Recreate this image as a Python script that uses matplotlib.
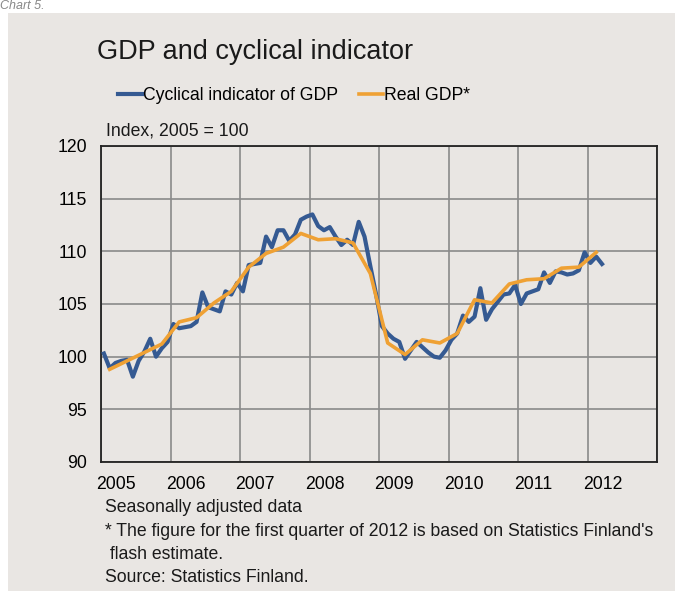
import numpy as np
import matplotlib
matplotlib.use("Agg")
from matplotlib import pyplot as plt
from matplotlib.patches import Rectangle

plt.rcParams['font.family'] = ['Liberation Sans', 'DejaVu Sans']

# monthly cyclical indicator of GDP, Jan 2005 - Mar 2012
cyclical = [100.3, 98.9, 99.4, 99.6, 99.7, 98.1, 99.6, 100.5, 101.7, 100.0, 100.8, 101.4,
            103.1, 102.7, 102.8, 102.9, 103.3, 106.1, 104.7, 104.5, 104.3, 106.2, 105.9, 107.0,
            106.2, 108.7, 108.8, 108.9, 111.4, 110.4, 112.0, 112.0, 111.0, 111.6, 113.0, 113.3,
            113.5, 112.4, 112.0, 112.3, 111.4, 110.6, 111.1, 110.6, 112.8, 111.4, 108.6, 105.9,
            102.9, 102.2, 101.7, 101.4, 99.8, 100.6, 101.4, 100.9, 100.4, 100.0, 99.9, 100.6,
            101.6, 102.2, 103.9, 103.3, 103.8, 106.5, 103.5, 104.5, 105.2, 105.9, 106.0, 106.8,
            105.0, 106.0, 106.2, 106.4, 108.0, 107.0, 108.1, 108.0, 107.8, 107.9, 108.2, 109.9,
            108.9, 109.5, 108.8]

# quarterly real GDP, 2005Q1 - 2012Q1
real_gdp = [98.8, 99.6, 100.4, 101.2, 103.3, 103.7, 105.1, 106.2,
            108.5, 109.8, 110.4, 111.7, 111.1, 111.2, 110.8, 107.9,
            101.3, 100.2, 101.6, 101.3, 102.2, 105.4, 105.1, 106.9,
            107.3, 107.4, 108.4, 108.5, 109.9]

years = [2005, 2006, 2007, 2008, 2009, 2010, 2011, 2012]
yticks = [90, 95, 100, 105, 110, 115, 120]

# positions: mid-month and mid-quarter on a year scale
x_month = 2005 + (np.arange(len(cyclical)) + 0.5) / 12
x_quarter = 2005 + (3 * np.arange(len(real_gdp)) + 1.5) / 12

BLUE = '#355a92'
ORANGE = '#efa134'
PANEL = '#e9e6e3'
GRID = '#8a8a8a'
FS = 12.7

fig = plt.figure(figsize=(6.75, 5.91), dpi=100)
fig.patch.set_facecolor('white')
fig.patches.append(Rectangle((8 / 675, 0), 1, (591 - 13) / 591,
                             transform=fig.transFigure, facecolor=PANEL,
                             edgecolor='none', zorder=-5))
fig.text(0.0, 1.0, 'Chart 5.', fontsize=9, style='italic', color='#888888',
         va='top', ha='left')

ax = fig.add_axes([101 / 675, (591 - 462) / 591, 556 / 675, 316 / 591])
ax.set_facecolor(PANEL)

ax.plot(x_month, cyclical, color=BLUE, lw=3.0, solid_joinstyle='round',
        label='Cyclical indicator of GDP', zorder=3)
ax.plot(x_quarter, real_gdp, color=ORANGE, lw=2.6, solid_joinstyle='round',
        label='Real GDP*', zorder=4)

ax.set_xlim(2005, 2013)
ax.set_ylim(90, 120)
ax.set_yticks(yticks)
ax.set_yticklabels([str(v) for v in yticks], fontsize=FS)
ax.set_xticks(list(range(2005, 2014)))
ax.set_xticklabels([])
ax.set_xticks([y + 0.22 for y in years], minor=True)
ax.set_xticklabels([str(y) for y in years], minor=True, fontsize=FS)
ax.tick_params(axis='both', which='both', length=0)
ax.tick_params(axis='y', pad=10)
ax.tick_params(axis='x', which='minor', pad=10)
ax.grid(True, which='major', color=GRID, lw=1.2)
ax.set_axisbelow(True)
for s in ax.spines.values():
    s.set_color('#222222')
    s.set_linewidth(1.3)

fig.text(97 / 675, 1 - 52 / 591, 'GDP and cyclical indicator', fontsize=19.5,
         va='center', ha='left', color='#1a1a1a')
fig.legend(loc='center left', bbox_to_anchor=(118 / 675, 1 - 96 / 591), ncol=2,
           frameon=False, fontsize=FS, handlelength=1.35, handletextpad=0.05,
           columnspacing=1.2, borderaxespad=0, borderpad=0)
fig.text(106 / 675, 1 - 131 / 591, 'Index, 2005 = 100', fontsize=FS,
         va='center', ha='left', color='#1a1a1a')

notes = ['Seasonally adjusted data',
         "* The figure for the first quarter of 2012 is based on Statistics Finland's",
         ' flash estimate.',
         'Source: Statistics Finland.']
for k, line in enumerate(notes):
    fig.text(105 / 675, 1 - (508 + 23.3 * k) / 591, line, fontsize=FS,
             va='center', ha='left', color='#1a1a1a')

plt.savefig('out.png', dpi=100, facecolor=fig.get_facecolor())
